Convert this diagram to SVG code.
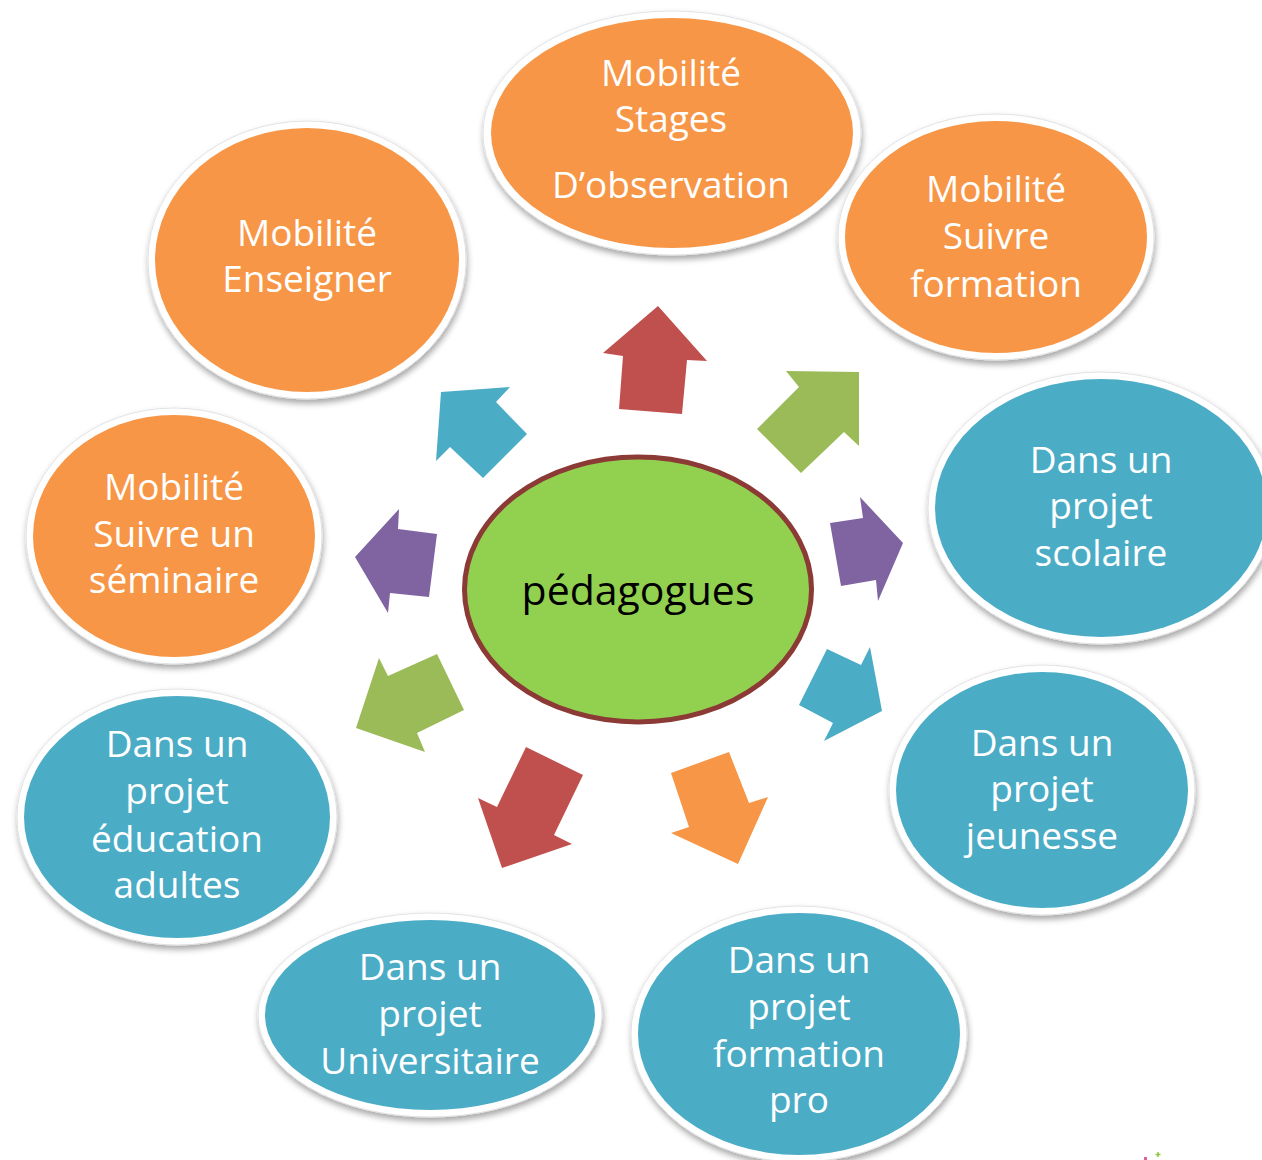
<svg xmlns="http://www.w3.org/2000/svg" width="1262" height="1160" viewBox="0 0 1262 1160">
<defs>
<filter id="sh" x="-20%" y="-20%" width="140%" height="150%">
<feDropShadow dx="1" dy="4" stdDeviation="3" flood-color="#000" flood-opacity="0.35"/>
</filter>
</defs>
<style>
.ring{fill:#fff;stroke:#e2e2e2;stroke-width:1;filter:url(#sh)}
.or{fill:#F79646}
.bl{fill:#4BACC6}
.t{font-family:"Open Sans","Noto Sans","DejaVu Sans",sans-serif;font-size:37px;fill:#fff;text-anchor:middle}
.c{font-family:"Open Sans","Noto Sans","DejaVu Sans",sans-serif;font-size:41px;fill:#000;text-anchor:middle}
</style>
<rect width="1262" height="1160" fill="#fff"/>

<g id="connectors">
<polygon fill="#C0504D" points="658,306 707,361 687,360 682,414 619,409 623,356 603,353"/>
<polygon fill="#9BBB59" points="859,372 859,446 844,432 801,473 757,429 799,387 786,371"/>
<polygon fill="#4BACC6" points="441,392 510,387 496,402 527,434 483,478 450,447 436,461"/>
<polygon fill="#8064A2" points="355,557 399,509 398,529 437,534 429,597 390,593 388,613"/>
<polygon fill="#8064A2" points="903,543 878,601 876,580 841,586 830,523 863,518 860,497"/>
<polygon fill="#4BACC6" points="882,711 824,741 833,723 799,705 827,649 861,665 870,647"/>
<polygon fill="#9BBB59" points="356,728 379,658 388,676 437,654 464,710 417,733 425,752"/>
<polygon fill="#C0504D" points="502,868 478,798 497,807 526,747 583,775 554,835 572,844"/>
<polygon fill="#F79646" points="738,864 768,797 749,803 729,752 671,773 689,827 671,833"/>
</g>

<g id="n-stages">
<ellipse class="ring" cx="672" cy="133" rx="189" ry="122"/>
<ellipse class="or" cx="672" cy="133" rx="181" ry="115"/>
<text class="t" x="671" y="86">Mobilité</text>
<text class="t" x="671" y="132">Stages</text>
<text class="t" x="671" y="198">D’observation</text>
</g>

<g id="n-formation">
<ellipse class="ring" cx="996" cy="237" rx="158" ry="123"/>
<ellipse class="or" cx="996" cy="237" rx="151" ry="116"/>
<text class="t" x="996" y="202">Mobilité</text>
<text class="t" x="996" y="249">Suivre</text>
<text class="t" x="996" y="297">formation</text>
</g>

<g id="n-enseigner">
<ellipse class="ring" cx="307" cy="260" rx="159" ry="139"/>
<ellipse class="or" cx="307" cy="260" rx="152" ry="132"/>
<text class="t" x="307" y="246">Mobilité</text>
<text class="t" x="307" y="292">Enseigner</text>
</g>

<g id="n-scolaire">
<ellipse class="ring" cx="1101" cy="508" rx="173" ry="136"/>
<ellipse class="bl" cx="1101" cy="508" rx="166" ry="129"/>
<text class="t" x="1101" y="473">Dans un</text>
<text class="t" x="1101" y="519">projet</text>
<text class="t" x="1101" y="566">scolaire</text>
</g>

<g id="n-seminaire">
<ellipse class="ring" cx="174" cy="536" rx="148" ry="128"/>
<ellipse class="or" cx="174" cy="536" rx="141" ry="121"/>
<text class="t" x="174" y="500">Mobilité</text>
<text class="t" x="174" y="547">Suivre un</text>
<text class="t" x="174" y="593">séminaire</text>
</g>

<g id="n-jeunesse">
<ellipse class="ring" cx="1042" cy="790" rx="153" ry="125"/>
<ellipse class="bl" cx="1042" cy="790" rx="146" ry="118"/>
<text class="t" x="1042" y="756">Dans un</text>
<text class="t" x="1042" y="802">projet</text>
<text class="t" x="1042" y="849">jeunesse</text>
</g>

<g id="n-adultes">
<ellipse class="ring" cx="177" cy="817" rx="160" ry="128"/>
<ellipse class="bl" cx="177" cy="817" rx="153" ry="121"/>
<text class="t" x="177" y="757">Dans un</text>
<text class="t" x="177" y="804">projet</text>
<text class="t" x="177" y="852">éducation</text>
<text class="t" x="177" y="898">adultes</text>
</g>

<g id="n-universitaire">
<ellipse class="ring" cx="430" cy="1015" rx="172" ry="102"/>
<ellipse class="bl" cx="430" cy="1015" rx="165" ry="95"/>
<text class="t" x="430" y="980">Dans un</text>
<text class="t" x="430" y="1027">projet</text>
<text class="t" x="430" y="1074">Universitaire</text>
</g>

<g id="n-pro">
<ellipse class="ring" cx="799" cy="1034" rx="168" ry="128"/>
<ellipse class="bl" cx="799" cy="1034" rx="161" ry="121"/>
<text class="t" x="799" y="973">Dans un</text>
<text class="t" x="799" y="1020">projet</text>
<text class="t" x="799" y="1067">formation</text>
<text class="t" x="799" y="1113">pro</text>
</g>

<g id="n-center">
<ellipse cx="638" cy="589.5" rx="173.5" ry="132.5" fill="#92D050" stroke="#8B3A36" stroke-width="5"/>
<text class="c" x="638" y="605">pédagogues</text>
</g>

<g id="deco">
<rect x="1144" y="1157" width="3" height="3" fill="#E0609A"/>
<path d="M1158,1152v5M1155.5,1154.5h5" stroke="#8CC63F" stroke-width="1.5"/>
</g>
</svg>
